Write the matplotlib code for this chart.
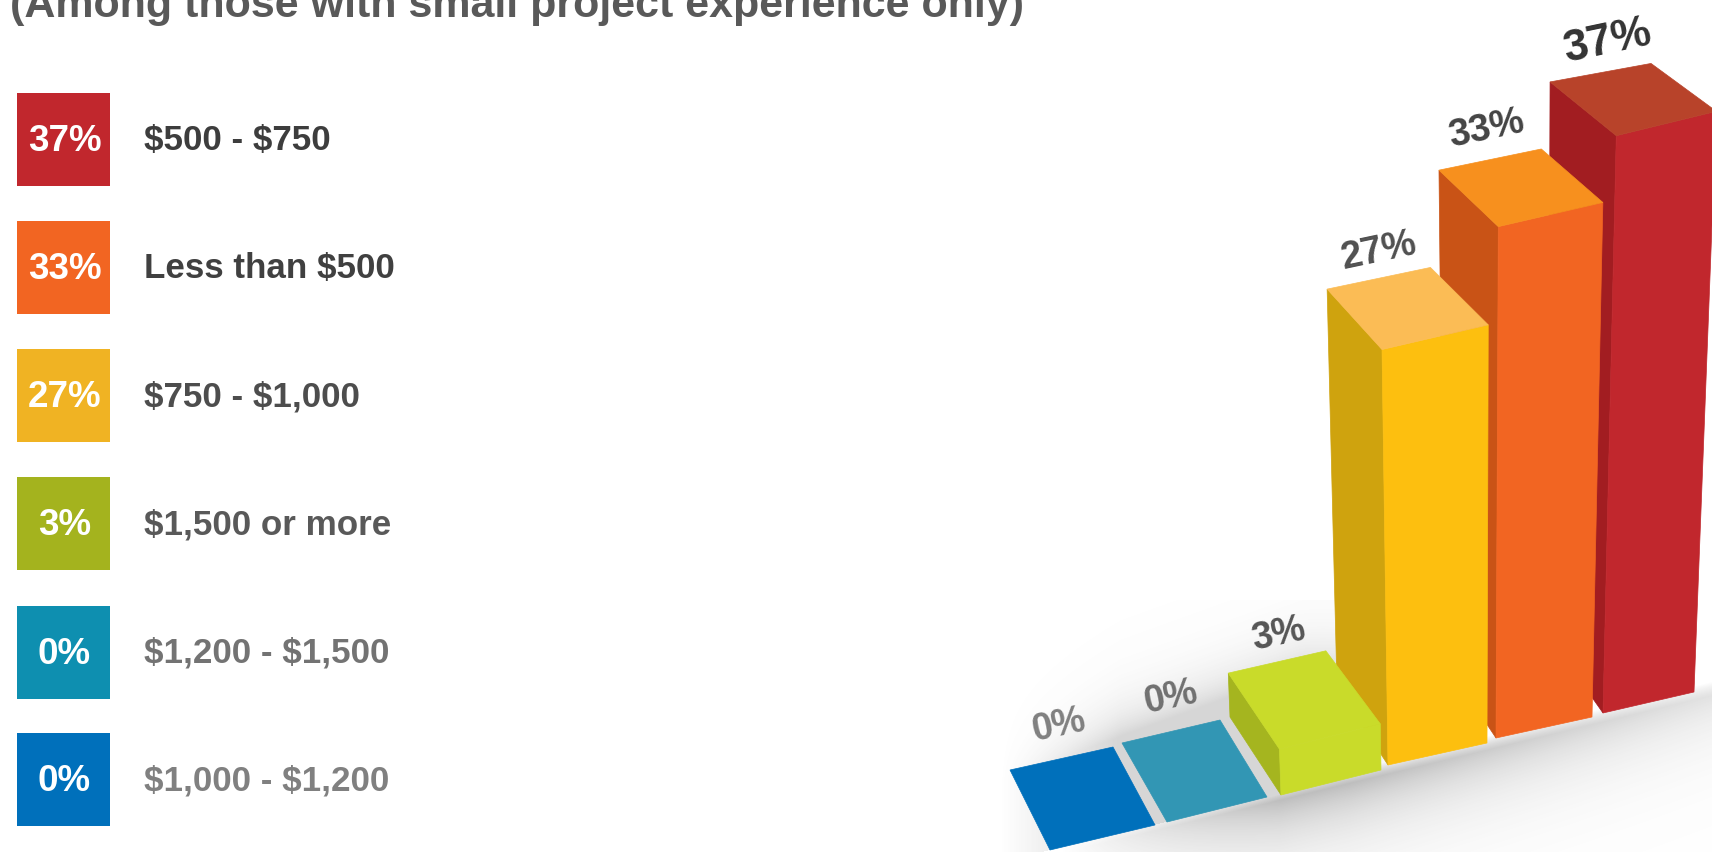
import numpy as np
import matplotlib
matplotlib.use("Agg")
import matplotlib.pyplot as plt

# ---- data ----
title = "(Among those with small project experience only)"
categories = ["$500 - $750", "Less than $500", "$750 - $1,000",
              "$1,500 or more", "$1,200 - $1,500", "$1,000 - $1,200"]
values = [37, 33, 27, 3, 0, 0]

# ---- styles / layout ----
legend_colors = ["#C1272D", "#F26522", "#F0B323", "#A4B31E", "#0E8FB0", "#0070BB"]
label_colors = ["#3d3d3d", "#404040", "#4d4d4d", "#595959", "#737373", "#808080"]
bar_label_colors = ["#333333", "#444444", "#505050", "#555555", "#707070", "#808080"]
bar_label_sizes = [32, 27.5, 27.5, 27, 27, 27]
front_colors = ["#C1272D", "#F26522", "#FDBF0F", "#C9DB2A", "#3296B4", "#0070BB"]
top_colors = ["#B8432A", "#F7901E", "#FBBC55", "#C9DB2A", "#3296B4", "#0070BB"]
side_colors = ["#A21D21", "#C95316", "#CFA30E", "#A5B51F", "#3296B4", "#0070BB"]
# ground footprints: front-left, front-right, back-right, back-left (pixels)
footprints = [
    [(1603, 713), (1694, 692), (1642, 620), (1548, 635)],
    [(1496, 738), (1592, 717), (1540, 642), (1444, 660)],
    [(1388, 765), (1487, 743), (1435, 668), (1337, 687)],
    [(1281, 795), (1381, 770), (1327, 695), (1230, 717)],
    [(1167, 822), (1267, 797), (1220, 720), (1122, 743)],
    [(1050, 850), (1155, 825), (1113, 747), (1010, 770)],
]
label_offsets = [(8, -31), (-4, -30), (0, -27), (2, -27), (0, -34), (-3, -33)]
legend_tops = [93, 221, 349, 477, 606, 733]
legend_h = 93
legend_left, legend_w = 17, 93
font = "Liberation Sans"


def raise_corner(pt, v, front):
    """Perspective projection of a ground corner lifted by the value v."""
    x, y = pt
    if front:
        return (x + (x - 1470) * 0.0027 * v, y - (15.6 + 0.001 * (x - 1600)) * v)
    return (x + (x - 1520) * 0.002 * v, y - (14.95 + 0.001 * (x - 1550)) * v)


fig = plt.figure(figsize=(17.12, 8.52), dpi=100, facecolor="white")
ax = fig.add_axes([0, 0, 1, 1])
ax.set_axis_off()

# soft ground shadow
gx, gy = np.meshgrid(np.arange(950, 1712), np.arange(600, 852))
d = gy - (818 - 0.2424 * (gx - 1155))
fade = np.clip((gx - 1060) / 220, 0, 1) * (1 - 0.55 * np.clip((gx - 1350) / 360, 0, 1))
ramp = np.clip((d + 2) / 14, 0, 1)
below = ramp * np.exp(-np.clip(d, 0, None) / 42) * 0.52 * fade
d2 = (765 - 0.36 * (gx - 1040)) - gy
fade2 = np.clip((gx - 1000) / 120, 0, 1) * np.clip((1400 - gx) / 100, 0, 1)
above = np.exp(-np.clip(d2, 0, None) / 28) * 0.25 * fade2 * (d <= 6)
alpha = np.clip(np.maximum(below, above), 0, 1)
rgba = np.zeros(alpha.shape + (4,))
rgba[..., :3] = 0.35
rgba[..., 3] = alpha
ax.imshow(rgba, extent=(950, 1712, 852, 600), aspect="auto", zorder=1,
          interpolation="bilinear")

ax.set_xlim(0, 1712)
ax.set_ylim(852, 0)

# 3D bars, back to front
for i, (fp, v) in enumerate(zip(footprints, values)):
    z = 2 + i
    fl, fr, br, bl = fp
    tfl, tfr = raise_corner(fl, v, True), raise_corner(fr, v, True)
    tbr, tbl = raise_corner(br, v, False), raise_corner(bl, v, False)
    if v > 0:
        ax.fill(*zip(fl, bl, tbl, tfl), color=side_colors[i], lw=0.5, zorder=z)
        ax.fill(*zip(fl, fr, tfr, tfl), color=front_colors[i], lw=0.5, zorder=z)
    ax.fill(*zip(tfl, tfr, tbr, tbl), color=top_colors[i], lw=0.5, zorder=z)
    ox, oy = label_offsets[i]
    ax.text((tbl[0] + tbr[0]) / 2 + ox, (tbl[1] + tbr[1]) / 2 + oy, f"{v}%",
            rotation=12, ha="center", va="center", family=font, weight="bold",
            fontsize=bar_label_sizes[i], color=bar_label_colors[i], zorder=20)

# legend column
for top, col, cat, v, lc in zip(legend_tops, legend_colors, categories, values, label_colors):
    ax.fill([legend_left, legend_left + legend_w, legend_left + legend_w, legend_left],
            [top, top, top + legend_h, top + legend_h], color=col, lw=0, zorder=2)
    ax.text(legend_left + legend_w / 2 + 1, top + legend_h / 2 + 2, f"{v}%", ha="center",
            va="center", family=font, weight="bold", fontsize=26.5, color="white", zorder=3)
    ax.text(144, top + legend_h / 2 + 1, cat.replace("$", r"\$"), ha="left", va="center",
            family=font, weight="bold", fontsize=25.2, color=lc, zorder=3)

ax.text(10, 17, title, ha="left", va="baseline", family=font, weight="bold",
        fontsize=31, color="#595959", zorder=3)

fig.savefig("out.png", dpi=100, facecolor="white")
